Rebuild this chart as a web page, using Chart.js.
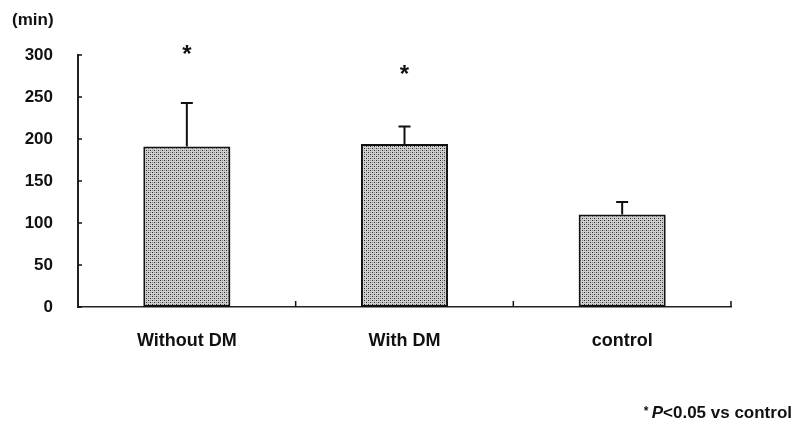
<!DOCTYPE html>
<html>
<head>
<meta charset="utf-8">
<script src="https://cdn.jsdelivr.net/npm/chart.js@4/dist/chart.umd.min.js"></script>
<style>
  html, body { margin: 0; padding: 0; background: #fff; }
  #wrap { width: 798px; height: 428px; }
</style>
</head>
<body>
<div id="wrap"><canvas id="chart" width="798" height="428"></canvas></div>
<script>
  // data
  const categories = ['Without DM', 'With DM', 'control'];
  const means = [191, 194, 110];
  const errUpper = [243, 215, 125];   // top of the SD bar
  const starAt = [306, 282, null];    // where the * sits (in min)
  const yTicks = [0, 50, 100, 150, 200, 250, 300];

  const FONT = '"Liberation Sans", Arial, sans-serif';

  // dotted grey fill, like the printed screen tone
  function stipple() {
    const c = document.createElement('canvas');
    c.width = 4; c.height = 4;
    const g = c.getContext('2d');
    g.fillStyle = '#cfcfcf';
    g.fillRect(0, 0, 4, 4);
    g.fillStyle = '#2a2a2a';
    g.fillRect(0, 0, 1, 1);
    g.fillRect(2, 2, 1, 1);
    g.fillStyle = '#8f8f8f';
    g.fillRect(2, 0, 1, 1);
    g.fillRect(0, 2, 1, 1);
    return g.createPattern(c, 'repeat');
  }

  const extras = {
    id: 'extras',
    afterDatasetsDraw(chart) {
      const ctx = chart.ctx;
      const x = chart.scales.x, y = chart.scales.y;
      const area = chart.chartArea;
      const meta = chart.getDatasetMeta(0);
      ctx.save();

      // error bars (upper only)
      ctx.strokeStyle = '#111';
      ctx.lineWidth = 2;
      meta.data.forEach((bar, i) => {
        const top = y.getPixelForValue(errUpper[i]);
        ctx.beginPath();
        ctx.moveTo(bar.x, bar.y);
        ctx.lineTo(bar.x, top);
        ctx.moveTo(bar.x - 6, top);
        ctx.lineTo(bar.x + 6, top);
        ctx.stroke();
      });

      // small inward ticks
      ctx.lineWidth = 1.5;
      yTicks.forEach(v => {
        const py = y.getPixelForValue(v);
        ctx.beginPath();
        ctx.moveTo(area.left, py);
        ctx.lineTo(area.left + 4, py);
        ctx.stroke();
      });
      for (let i = 0; i < categories.length; i++) {
        const px = i < categories.length - 1
          ? (x.getPixelForValue(i) + x.getPixelForValue(i + 1)) / 2
          : area.right;
        ctx.beginPath();
        ctx.moveTo(px, area.bottom);
        ctx.lineTo(px, area.bottom - 6);
        ctx.stroke();
      }

      // significance stars
      ctx.fillStyle = '#111';
      ctx.font = 'bold 24px ' + FONT;
      ctx.textAlign = 'center';
      ctx.textBaseline = 'middle';
      starAt.forEach((v, i) => {
        if (v == null) return;
        ctx.fillText('*', meta.data[i].x, y.getPixelForValue(v) + 5);
      });

      // unit label
      ctx.font = 'bold 17px ' + FONT;
      ctx.textAlign = 'left';
      ctx.fillText('(min)', 12, 20);

      // footnote: * P<0.05 vs control
      const rest = '<0.05 vs control';
      ctx.font = 'bold 17px ' + FONT;
      const wRest = ctx.measureText(rest).width;
      ctx.font = 'italic bold 17px ' + FONT;
      const wP = ctx.measureText('P').width;
      ctx.font = 'bold 12px ' + FONT;
      const wStar = ctx.measureText('* ').width;
      let px = 792 - wRest - wP - wStar;
      ctx.fillText('* ', px, 412);
      px += wStar;
      ctx.font = 'italic bold 17px ' + FONT;
      ctx.fillText('P', px, 413);
      px += wP;
      ctx.font = 'bold 17px ' + FONT;
      ctx.fillText(rest, px, 413);

      ctx.restore();
    }
  };

  new Chart(document.getElementById('chart'), {
    type: 'bar',
    data: {
      labels: categories,
      datasets: [{
        data: means,
        backgroundColor: stipple(),
        borderColor: '#111',
        borderWidth: 2,
        borderSkipped: false,
        barPercentage: 0.4,
        categoryPercentage: 1
      }]
    },
    options: {
      responsive: false,
      animation: false,
      layout: { padding: { top: 55, right: 67, left: 0, bottom: 0 } },
      plugins: { legend: { display: false }, tooltip: { enabled: false } },
      scales: {
        x: {
          grid: { display: false },
          border: { display: true, color: '#222', width: 1.5 },
          ticks: {
            color: '#111',
            font: { family: FONT, size: 18, weight: 'bold' },
            padding: 15,
            maxRotation: 0
          },
          afterFit(scale) { scale.height = 121; }
        },
        y: {
          min: 0,
          max: 300,
          grid: { display: false },
          border: { display: true, color: '#222', width: 2 },
          ticks: {
            stepSize: 50,
            color: '#111',
            font: { family: FONT, size: 17, weight: 'bold' },
            padding: 17
          },
          afterFit(scale) { scale.width = 78; }
        }
      }
    },
    plugins: [extras]
  });
</script>
</body>
</html>
